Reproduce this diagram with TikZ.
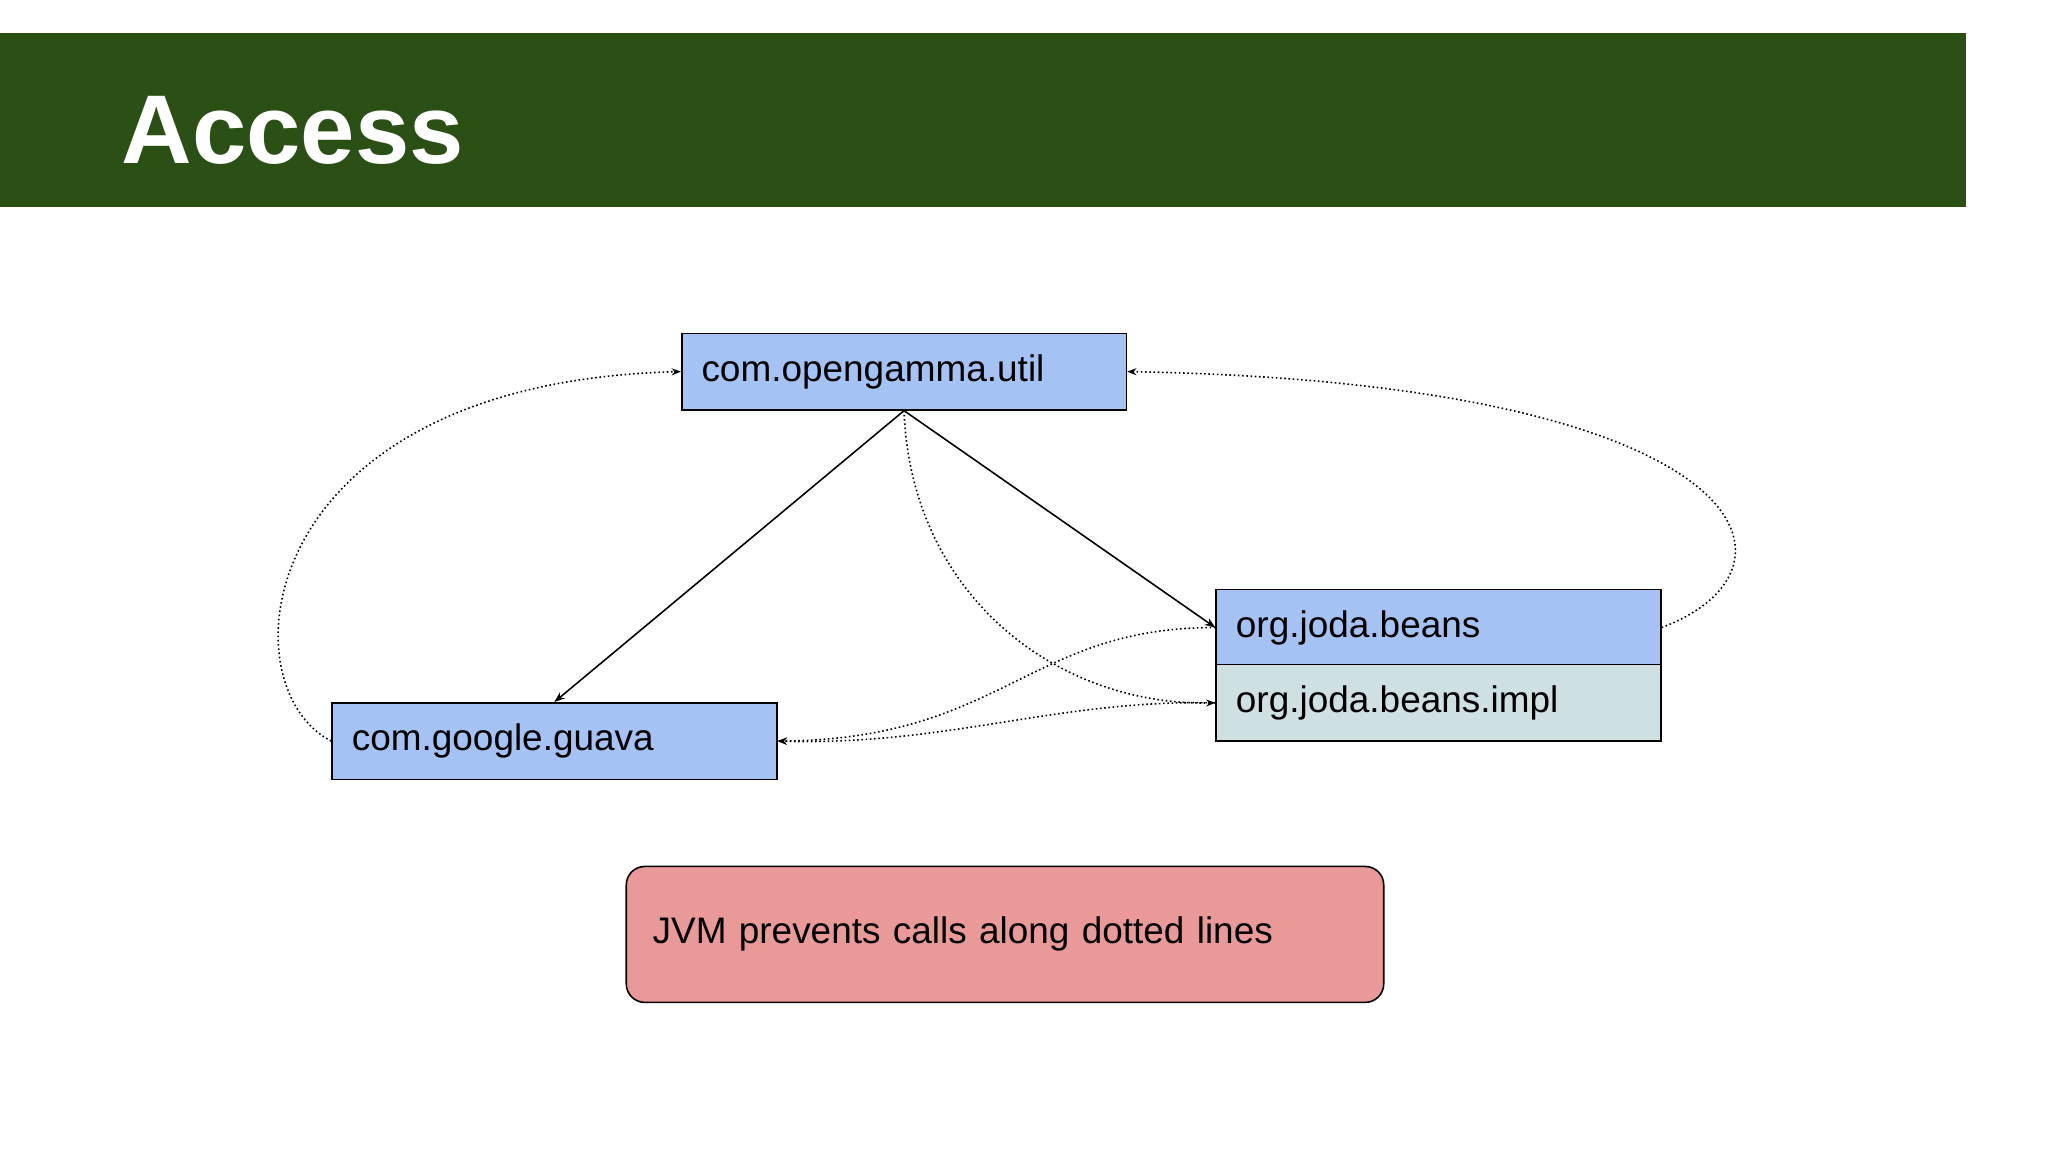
\documentclass[tikz,border=0pt]{standalone}
\usepackage{fontspec}
\setmainfont{Liberation Sans}
\usetikzlibrary{arrows.meta}
\begin{document}
\begin{tikzpicture}[x=1pt,y=-1pt,
 box/.style={draw=black,line width=1.2pt,minimum height=58pt,minimum width=337pt,inner sep=0pt,anchor=north west,font=\fontsize{28}{30}\selectfont,text width=307pt,align=left},
 sol/.style={line width=1.2pt,-{Stealth[length=8pt]}},
 dot/.style={line width=1.2pt,dotted,-{Stealth[length=7pt]}}]
\useasboundingbox (0,0) rectangle (1552,873);
\fill[white] (0,0) rectangle (1552,873);
\fill[fill={rgb,255:red,42;green,80;blue,22}] (0,25) rectangle (1490,157);
\node[anchor=base west,text=white,font=\fontsize{74}{80}\selectfont\bfseries,inner sep=0pt] (title) at (92,124) {Access};
\definecolor{bl}{HTML}{A4C2F4}
\node[box,fill=bl] (util) at (516,252) {com.opengamma.util};
\node[box,fill=bl] (guava) at (251,532) {com.google.guava};
\node[box,fill=bl] (beans) at (921,446) {org.joda.beans};
\node[box,fill={rgb,255:red,207;green,224;blue,227}] (impl) at (921,503) {org.joda.beans.impl};
\node[draw=black,line width=1.2pt,fill={rgb,255:red,234;green,153;blue,153},rounded corners=14pt,minimum width=574pt,minimum height=103pt,anchor=north west,font=\fontsize{28}{30}\selectfont,text width=534pt,align=left,inner sep=0pt] (note) at (474,656) {JVM prevents calls along dotted lines};
\draw[sol] (util.south) -- (guava.north);
\draw[sol] (util.south) -- (beans.west);
\draw[dot] (guava.west) .. controls (170,520) and (190,290) .. (util.west);
\draw[dot] (beans.east) .. controls (1380,430) and (1330,290) .. (util.east);
\draw[dot] (util.south) .. controls (690,450) and (800,535) .. (impl.west);
\draw[dot] (beans.west) .. controls (780,475) and (760,560) .. (guava.east);
\draw[dot] (impl.west) .. controls (800,530) and (720,565) .. (guava.east);
\end{tikzpicture}
\end{document}
